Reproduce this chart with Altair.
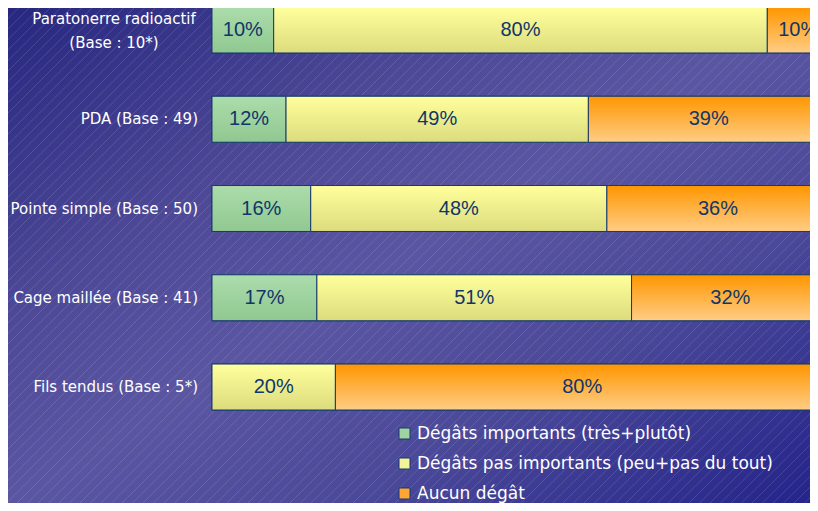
import altair as alt
import pandas as pd

# ---- data ----
categories = [
    "Paratonerre radioactif (Base : 10*)",
    "PDA (Base : 49)",
    "Pointe simple (Base : 50)",
    "Cage maillée (Base : 41)",
    "Fils tendus (Base : 5*)",
]
label_lines = [
    ["Paratonerre radioactif", "(Base : 10*)"],
    ["PDA (Base : 49)"],
    ["Pointe simple (Base : 50)"],
    ["Cage maillée (Base : 41)"],
    ["Fils tendus (Base : 5*)"],
]
series = [
    "Dégâts importants (très+plutôt)",
    "Dégâts pas importants (peu+pas du tout)",
    "Aucun dégât",
]
important = [10, 12, 16, 17, 0]
pas_importants = [80, 49, 48, 51, 20]
aucun = [10, 39, 36, 32, 80]

flat_colors = ["#9fd39f", "#f3f39a", "#ffa534"]
grad_stops = [
    ("#acdcac", "#90c890"),
    ("#ffff9c", "#dcdc7e"),
    ("#ff9600", "#ffcd85"),
]

W, H = 802, 495
LEFT = 204
PX_PER_PCT = 6.17

rows = []
for i, cat in enumerate(categories):
    start = 0
    for s, vals in zip(series, [important, pas_importants, aucun]):
        v = vals[i]
        if v > 0:
            rows.append(dict(cat=cat, series=s, start=start, end=start + v,
                             mid=start + v / 2, pct=f"{v}%"))
        start += v
bars = pd.DataFrame(rows)
labels = pd.DataFrame(dict(cat=categories, lines=label_lines, idx=list(range(len(categories)))))

xscale = alt.Scale(domain=[0, 100], range=[LEFT, LEFT + 100 * PX_PER_PCT])
yscale = alt.Scale(domain=categories, range=[-1, 402], paddingInner=0.485, paddingOuter=0)
Y = alt.Y("cat:N", scale=yscale, axis=None, sort=categories)

# ---- background ----
bg = alt.Chart(pd.DataFrame({"a": [0]})).mark_rect(
    color=alt.Gradient(
        gradient="linear", x1=0, y1=0, x2=1, y2=1,
        stops=[alt.GradientStop(color="#272780", offset=0),
               alt.GradientStop(color="#4c4896", offset=0.3),
               alt.GradientStop(color="#5a56a2", offset=0.5),
               alt.GradientStop(color="#4a4898", offset=0.72),
               alt.GradientStop(color="#24248a", offset=1)]),
).encode(x=alt.value(0), x2=alt.value(W), y=alt.value(0), y2=alt.value(H))

hatch = alt.Chart(alt.sequence(0, W + H + 20, 10.5, as_="k")).transform_calculate(
    k2=f"datum.k - {H}"
).mark_rule(color="white", strokeWidth=0.7, opacity=0.18, clip=True).encode(
    x=alt.X("k:Q", scale=None, axis=None),
    x2="k2:Q",
    y=alt.value(0),
    y2=alt.value(H),
)

base_bars = alt.Chart(bars).mark_bar(stroke="#163a6c", strokeWidth=1, clip=True).encode(
    x=alt.X("start:Q", scale=xscale, axis=None),
    x2="end:Q",
    y=Y,
    fill=alt.Fill("series:N", scale=alt.Scale(domain=series, range=flat_colors),
                  legend=alt.Legend(
                      title=None, orient="none", legendX=388, legendY=417,
                      symbolType="square", symbolSize=121,
                      symbolStrokeColor="#163a6c", symbolStrokeWidth=1,
                      labelColor="white", labelFont="DejaVu Sans", labelFontSize=17,
                      labelOffset=4, rowPadding=12, padding=0, labelLimit=500)),
)

grad_layers = []
for s, (top, bot) in zip(series, grad_stops):
    grad_layers.append(
        alt.Chart(bars).transform_filter(alt.datum.series == s).mark_bar(
            stroke="#163a6c", strokeWidth=1, clip=True,
            color=alt.Gradient(gradient="linear", x1=0, y1=0, x2=0, y2=1,
                               stops=[alt.GradientStop(color=top, offset=0),
                                      alt.GradientStop(color=bot, offset=1)]),
        ).encode(x=alt.X("start:Q", scale=xscale, axis=None), x2="end:Q", y=Y)
    )

pct_text = alt.Chart(bars).mark_text(
    font="Liberation Sans", fontSize=20, color="#0f376a", baseline="middle", clip=True
).encode(x=alt.X("mid:Q", scale=xscale, axis=None), y=Y, text="pct:N")

lab_first = alt.Chart(labels).transform_filter(alt.datum.idx == 0).mark_text(
    font="DejaVu Sans", fontSize=15, color="white", align="center",
    baseline="middle", lineHeight=24, dy=-11
).encode(x=alt.value(106), y=Y, text="lines")

lab_rest = alt.Chart(labels).transform_filter(alt.datum.idx > 0).mark_text(
    font="DejaVu Sans", fontSize=15, color="white", align="right",
    baseline="middle"
).encode(x=alt.value(190), y=Y, text="lines")

chart = alt.layer(
    bg, hatch, base_bars, *grad_layers, pct_text, lab_first, lab_rest
).resolve_scale(x="independent").properties(
    width=W, height=H, autosize=alt.AutoSizeParams(type="none"), padding=0,
    background="#2a2a80",
).configure_view(stroke=None)

chart.save("out.html", embed_options={"renderer": "svg", "actions": False})
